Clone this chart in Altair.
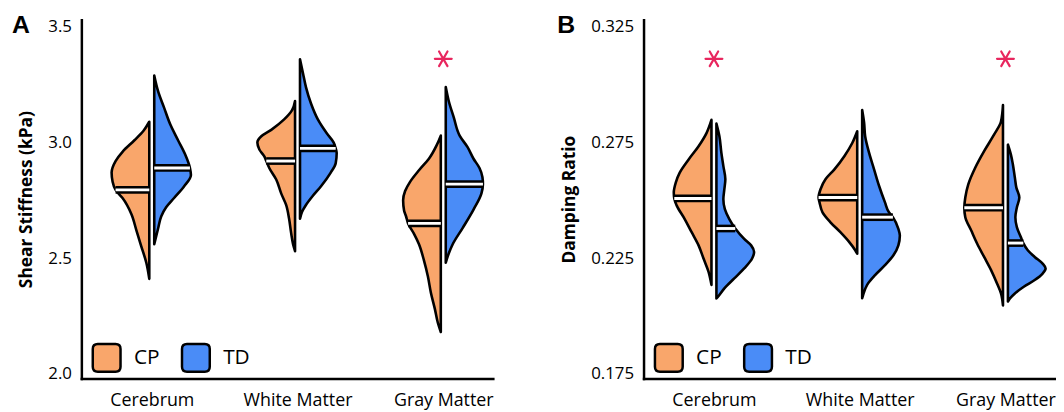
import json
import altair as alt
import numpy as np
import pandas as pd

categories = ["Cerebrum", "White Matter", "Gray Matter"]
groups = ["CP", "TD"]
group_colors = ["#F9A66B", "#4A8CF7"]

# ---- Panel A: shear stiffness (kPa); (value, density) outline pairs
stiff_cp = [
    [(3.09, 0), (3.05, 6), (3.01, 15), (2.96, 27), (2.92, 34), (2.87, 38), (2.83, 37), (2.795, 34),
     (2.76, 27), (2.69, 18), (2.62, 13), (2.55, 8), (2.48, 3), (2.41, 0)],
    [(3.18, 0), (3.14, 3), (3.10, 11), (3.055, 24), (3.027, 34), (3.0, 38), (2.97, 36), (2.94, 31),
     (2.92, 29), (2.89, 26), (2.84, 19), (2.78, 14), (2.73, 9), (2.67, 6), (2.61, 4), (2.56, 2), (2.53, 0)],
    [(3.03, 0), (2.99, 4), (2.93, 12), (2.88, 22), (2.83, 31), (2.79, 36), (2.75, 38), (2.705, 37),
     (2.68, 35), (2.65, 33), (2.605, 27), (2.56, 22), (2.49, 17), (2.42, 13), (2.35, 10), (2.28, 6),
     (2.22, 3), (2.18, 0)],
]
stiff_td = [
    [(3.29, 0), (3.22, 4), (3.15, 10), (3.08, 16), (3.01, 24), (2.95, 31), (2.89, 36), (2.86, 37),
     (2.81, 30), (2.76, 20), (2.72, 12), (2.68, 7), (2.63, 4), (2.56, 0)],
    [(3.36, 0), (3.30, 3), (3.24, 6), (3.17, 11), (3.10, 18), (3.04, 27), (3.00, 34), (2.975, 36),
     (2.955, 37), (2.91, 36), (2.87, 31), (2.81, 21), (2.77, 13), (2.73, 6), (2.70, 2), (2.67, 0)],
    [(3.24, 0), (3.18, 3), (3.11, 8), (3.03, 14), (2.98, 22), (2.93, 28), (2.89, 34), (2.85, 37),
     (2.82, 37.5), (2.78, 36), (2.71, 28), (2.63, 17), (2.56, 7), (2.52, 3), (2.48, 0)],
]
stiff_median_cp = [2.795, 2.92, 2.65]
stiff_median_td = [2.89, 2.975, 2.82]
stiff_sig = [False, False, True]
stiff_ticks = [2.0, 2.5, 3.0, 3.5]

# ---- Panel B: damping ratio
damp_cp = [
    [(0.2848, 0), (0.2791, 5), (0.2734, 13), (0.2677, 23), (0.2620, 32), (0.2577, 36), (0.2534, 38),
     (0.2508, 37.5), (0.2477, 35), (0.2419, 27), (0.2362, 20), (0.2305, 13), (0.2248, 8), (0.2191, 3),
     (0.2134, 0)],
    [(0.2799, 0), (0.2748, 5), (0.2691, 13), (0.2634, 23), (0.2591, 32), (0.2548, 37), (0.2512, 39),
     (0.2491, 38), (0.2448, 35), (0.2405, 27), (0.2362, 17), (0.2319, 8), (0.2284, 2), (0.2269, 0)],
    [(0.2912, 0), (0.2841, 2), (0.2784, 9), (0.2713, 19), (0.2641, 28), (0.2569, 35), (0.2512, 38),
     (0.2468, 39), (0.2427, 38), (0.2369, 32), (0.2312, 26), (0.2255, 19), (0.2198, 12), (0.2140, 6),
     (0.2097, 2), (0.2045, 0)],
]
damp_td = [
    [(0.2832, 0), (0.2777, 3), (0.2705, 5), (0.2648, 7), (0.2591, 9), (0.2548, 8), (0.2505, 7),
     (0.2462, 8.5), (0.2419, 13), (0.2378, 19), (0.2333, 28), (0.2305, 35), (0.2276, 38), (0.2248, 36),
     (0.2205, 28), (0.2162, 18), (0.2119, 8), (0.2085, 2), (0.2075, 0)],
    [(0.2891, 0), (0.2834, 2), (0.2777, 3), (0.2705, 7), (0.2634, 12), (0.2563, 17), (0.2491, 23),
     (0.2448, 27), (0.2427, 31), (0.2376, 36.5), (0.2348, 38), (0.2305, 36.5), (0.2262, 31.5),
     (0.2219, 23), (0.2176, 13), (0.2134, 5), (0.2091, 1), (0.2076, 0)],
    [(0.2741, 0), (0.2698, 3), (0.2655, 5), (0.2598, 7), (0.2555, 8.5), (0.2512, 11.5), (0.2469, 9),
     (0.2427, 7.5), (0.2384, 9), (0.2341, 13), (0.2315, 15.5), (0.2284, 20), (0.2255, 27), (0.2226, 35),
     (0.2205, 38), (0.2183, 35), (0.2155, 27), (0.2126, 16), (0.2097, 7), (0.2075, 2), (0.2062, 0)],
]
damp_median_cp = [0.2508, 0.2512, 0.2468]
damp_median_td = [0.2378, 0.2427, 0.2315]
damp_sig = [True, False, True]
damp_ticks = [0.175, 0.225, 0.275, 0.325]

# ---- styling constants
FONT = "Open Sans"
UNIT_PX = 147.0            # pixels per category step
K = 1.0 / UNIT_PX          # density unit -> x data unit
GAP = 2.5 / UNIT_PX        # half gap between the two halves
X_DOMAIN = [-0.483, 2.340]
PLOT_W, PLOT_H = 415, 362
ROUND_SQ = ("M-0.64,-1L0.64,-1Q1,-1 1,-0.64L1,0.64Q1,1 0.64,1L-0.64,1Q-1,1 -1,0.64"
            "L-1,-0.64Q-1,-1 -0.64,-1Z")
STAR = "M-1,0L1,0M-0.5,-0.866L0.5,0.866M-0.5,0.866L0.5,-0.866"
label_expr = json.dumps(categories) + "[datum.value]"


def panel(cp, td, med_cp, med_td, sig, ydom, yticks, yfmt, ytitle, letter, letter_dx):
    rows, med_rows = [], []
    for i in range(len(categories)):
        for g, prof, med in (("CP", cp[i], med_cp[i]), ("TD", td[i], med_td[i])):
            for v, d in prof:
                if g == "CP":
                    x, x2 = i - GAP - d * K, i - GAP
                else:
                    x, x2 = i + GAP, i + GAP + d * K
                rows.append({"key": f"{i}-{g}", "group": g, "v": v, "x": x, "x2": x2})
            vs = np.array([p[0] for p in prof])
            ds = np.array([p[1] for p in prof])
            order = np.argsort(vs)
            wm = float(np.interp(med, vs[order], ds[order]))
            if g == "CP":
                xa, xb = i - GAP - wm * K, i - GAP
            else:
                xa, xb = i + GAP, i + GAP + wm * K
            med_rows.append({"m": med, "xa": xa, "xb": xb, "group": g})
    df = pd.DataFrame(rows).sort_values(["key", "v"])
    mdf = pd.DataFrame(med_rows)
    sdf = pd.DataFrame({"xi": [i for i, s in enumerate(sig) if s]})

    yscale = alt.Scale(domain=ydom, nice=False, zero=False)
    xscale = alt.Scale(domain=X_DOMAIN, nice=False, zero=False)
    yaxis = alt.Axis(values=yticks, format=yfmt, ticks=False, tickSize=0, grid=False,
                     domainColor="black", domainWidth=2.5, domainCap="square",
                     labelFont=FONT, labelFontSize=17, labelColor="black", labelPadding=10,
                     title=ytitle, titleFont=FONT, titleFontSize=17.5, titleFontWeight="bold",
                     titleColor="black", titlePadding=12)
    xaxis = alt.Axis(values=[0, 1, 2], labelExpr=label_expr, ticks=False, tickSize=0, grid=False,
                     domainColor="black", domainWidth=2.5, domainCap="square",
                     labelFont=FONT, labelFontSize=18, labelColor="black", labelPadding=13,
                     labelOverlap=False, labelFlush=False, title=None)

    areas = alt.Chart(df).mark_area(
        orient="horizontal", interpolate="monotone", stroke="black", strokeWidth=2.6,
        strokeJoin="round", opacity=1,
    ).encode(
        y=alt.Y("v:Q", scale=yscale, axis=yaxis, title=ytitle),
        x=alt.X("x:Q", scale=xscale, axis=xaxis, title=None),
        x2="x2:Q",
        fill=alt.Fill("group:N", scale=alt.Scale(domain=groups, range=group_colors),
                      legend=alt.Legend(orient="none", legendX=10, legendY=325.5, direction="horizontal",
                                        title=None, symbolType=ROUND_SQ, symbolSize=784,
                                        symbolStrokeColor="black", symbolStrokeWidth=2.5,
                                        symbolOpacity=1, labelFont=FONT, labelFontSize=21,
                                        labelColor="black", labelOffset=12, columnPadding=17,
                                        padding=0)),
        detail="key:N",
    )

    def med_layer(width, color):
        return alt.Chart(mdf).mark_rule(strokeWidth=width, color=color, strokeCap="butt").encode(
            y=alt.Y("m:Q", scale=yscale, title=ytitle),
            x=alt.X("xa:Q", scale=xscale, title=None),
            x2="xb:Q",
        )

    stars = alt.Chart(sdf).mark_point(
        shape=STAR, size=289, filled=False, stroke="#E8265E", strokeWidth=2.2, opacity=1,
        strokeCap="round",
    ).encode(x=alt.X("xi:Q", scale=xscale, title=None), y=alt.value(39.5))

    letter_mark = alt.Chart(alt.Data(values=[{"t": letter}])).mark_text(
        font="Liberation Sans", fontSize=25, fontWeight="bold", color="black", align="left",
        baseline="alphabetic",
    ).encode(text="t:N", x=alt.value(letter_dx), y=alt.value(13))

    return alt.layer(areas, med_layer(7.8, "black"), med_layer(2.9, "white"), stars,
                     letter_mark).properties(width=PLOT_W, height=PLOT_H)


pA = panel(stiff_cp, stiff_td, stiff_median_cp, stiff_median_td, stiff_sig,
           [1.9786, 3.532], stiff_ticks, ".1f", "Shear Stiffness (kPa)", "A", -70)
pB = panel(damp_cp, damp_td, damp_median_cp, damp_median_td, damp_sig,
           [0.17286, 0.3282], damp_ticks, ".3f", "Damping Ratio", "B", -87)

chart = alt.hconcat(pA, pB, spacing=152, bounds="flush").resolve_scale(
    x="independent", y="independent", fill="independent"
).resolve_legend(fill="independent").properties(
    padding={"left": 4, "top": 3, "right": 0, "bottom": 0}, background="white"
).configure_view(strokeWidth=0)

chart.save("out.html", embed_options={"renderer": "svg", "actions": False})
